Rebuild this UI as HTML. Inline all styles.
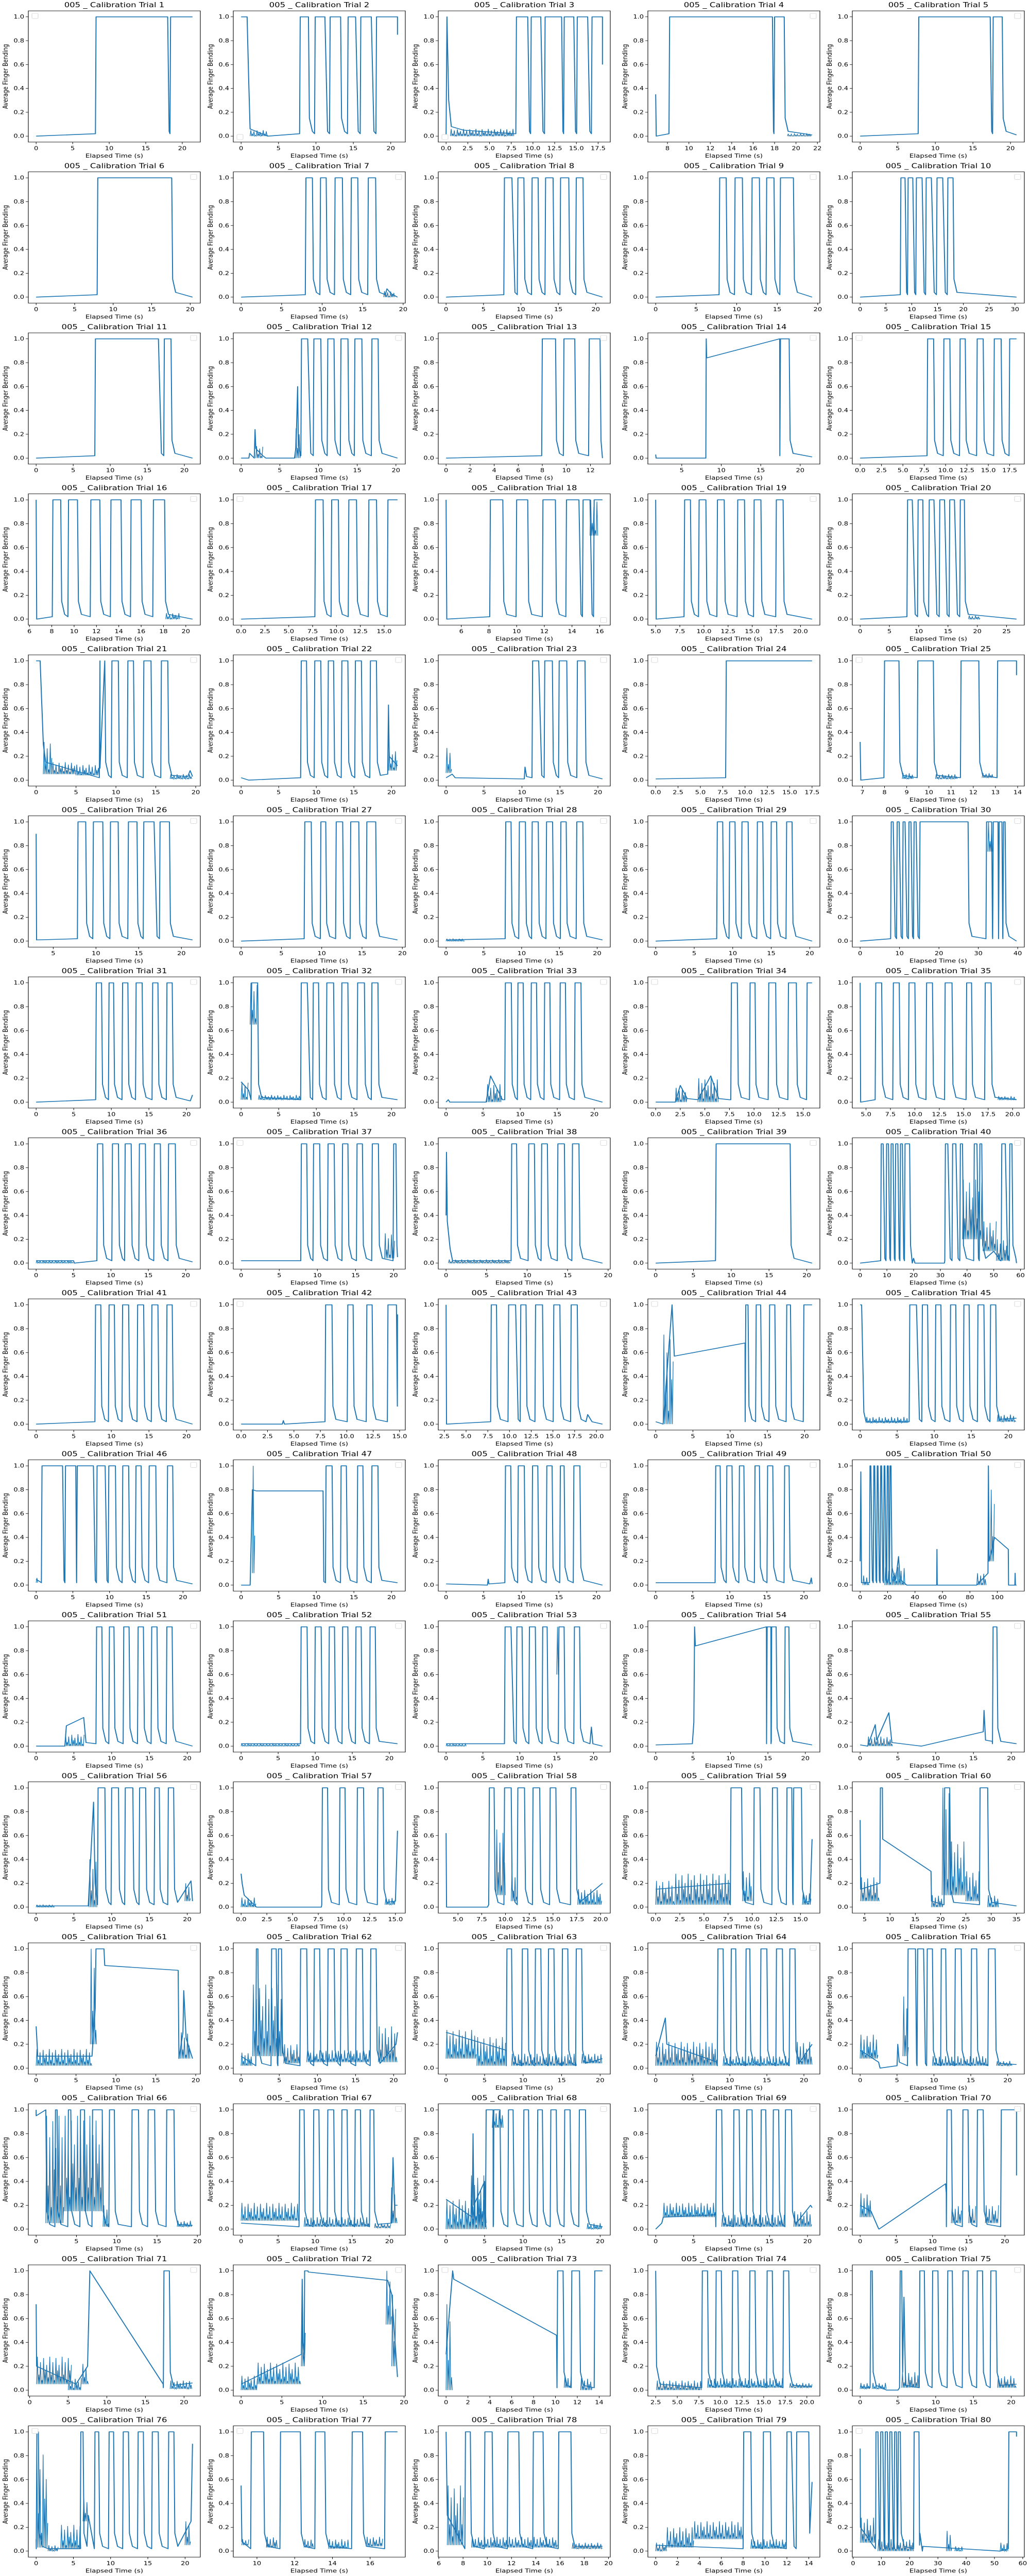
<!DOCTYPE html>
<html><head><meta charset="utf-8"><title>005 Calibration Trials</title>
<style>
html,body{margin:0;padding:0;background:#fff;width:100vw;height:100vh;overflow:hidden;}
#chart{display:block;position:absolute;left:0;top:0;width:100vw;height:100vh;}
svg text{font-family:"DejaVu Sans","Liberation Sans",sans-serif;fill:#000;}
</style></head>
<body>
<svg id="chart" xmlns="http://www.w3.org/2000/svg" viewBox="0 0 2000 6400" preserveAspectRatio="none"></svg>
<script>
// ---- data ----
const spans = [
[0,21.4],[0,20.9],[0,18.0],[6.9,21.5],[0,20.8],
[0,20.3],[0,19.3],[0,20.9],[0,19.3],[0,30.3],
[0,21.1],[0,20.2],[0,13.0],[1.7,21.5],[0,18.3],
[6.6,20.6],[0,16.4],[4.9,16.2],[5.0,21.2],[0,26.7],
[0,19.6],[0,20.8],[0,20.6],[0,17.5],[6.9,13.95],
[3.0,21.3],[0,19.4],[0,20.7],[0,20.3],[0,39.7],
[0,20.8],[0,20.8],[0,21.1],[0,15.9],[4.4,20.4],
[0,20.9],[0,20.5],[0,19.3],[0,20.7],[0,58.5],
[0,20.8],[0,14.8],[2.7,20.7],[0,21.0],[0,21.1],
[0,21.3],[0,20.8],[0,20.8],[0,21.1],[0,114],
[0,20.7],[0,21.1],[0,21.2],[0,20.9],[0,20.7],
[0,20.7],[0,15.2],[3.75,20.2],[0,16.2],[4.1,35.0],
[0,19.6],[0,20.5],[0,20.3],[0,21.1],[0,21.2],
[0,19.4],[0,21.1],[0,20.3],[0,20.6],[0,21.6],
[0.84,21.1],[0,19.2],[0,14.3],[2.5,20.6],[0,20.7],
[0,21.0],[9.16,17.45],[6.6,19.5],[0,14.3],[2.5,57.8]
];
const tk20 = ["0","5","10","15","20"];
const tk175 = ["0.0","2.5","5.0","7.5","10.0","12.5","15.0","17.5"];
const tk150 = ["0.0","2.5","5.0","7.5","10.0","12.5","15.0"];
const tk5to20 = ["5.0","7.5","10.0","12.5","15.0","17.5","20.0"];
const xtickLabels = [
tk20,tk20,tk175,["8","10","12","14","16","18","20","22"],tk20,
tk20,tk20,tk20,tk20,["0","5","10","15","20","25","30"],
tk20,tk20,["0","2","4","6","8","10","12"],["5","10","15","20"],tk175,
["6","8","10","12","14","16","18","20"],tk150,["6","8","10","12","14","16"],tk5to20,["0","5","10","15","20","25"],
tk20,tk20,tk20,tk175,["7","8","9","10","11","12","13","14"],
["5","10","15","20"],tk20,tk20,tk20,["0","10","20","30","40"],
tk20,tk20,tk20,tk150,tk5to20,
tk20,tk20,tk20,tk20,["0","10","20","30","40","50","60"],
tk20,tk150,["2.5","5.0","7.5","10.0","12.5","15.0","17.5","20.0"],tk20,tk20,
tk20,tk20,tk20,tk20,["0","20","40","60","80","100"],
tk20,tk20,tk20,tk20,tk20,
tk20,tk150,["5.0","7.5","10.0","12.5","15.0","17.5","20.0"],tk150,["5","10","15","20","25","30","35"],
tk20,tk20,tk20,tk20,tk20,
tk20,tk20,tk20,tk20,tk20,
tk20,tk20,["0","2","4","6","8","10","12","14"],["2.5","5.0","7.5","10.0","12.5","15.0","17.5","20.0"],tk20,
tk20,["10","12","14","16"],["6","8","10","12","14","16","18","20"],["0","2","4","6","8","10","12","14"],["0","10","20","30","40","50","60"]
];
const pulses = [
[8.2,18.0,18.4,21.4],
[7.9,9.0,9.9,11.2,11.9,13.3,14.3,15.3,16.0,17.4,18.1,20.9],
[8.1,9.4,9.8,10.9,11.4,13.3,13.6,14.7,15.1,16.3,16.8,18.0],
[8.2,17.8,18.0,18.9],
[7.8,17.3,17.7,18.9],
[8.0,17.6],
[8.0,8.8,9.8,10.5,11.6,12.5,13.6,14.4,15.7,16.6],
[7.8,8.8,9.6,10.4,11.5,12.3,13.3,14.3,15.3,16.4,17.4,18.3],
[7.9,8.7,9.8,10.7,11.9,12.8,13.7,14.6,15.4,17.0],
[7.9,8.7,9.3,10.2,10.9,12.0,12.8,13.8,14.9,16.0,17.0,18.0],
[8.0,16.5,17.3,18.2],
[7.8,8.6,9.4,10.3,11.2,12.0,12.9,13.8,14.7,15.6,16.9,17.7],
[8.0,9.1,9.8,10.7,11.9,12.8],
[17.5,18.6],
[7.9,8.6,9.8,10.5,11.7,12.3,13.7,14.4,15.7,16.5,17.5,18.3],
[8.1,8.8,9.5,10.3,11.5,12.3,13.3,14.2,15.1,16.0,17.1,18.1],
[7.8,8.6,9.5,10.2,11.3,12.1,13.4,14.2,15.4,16.4],
[8.1,9.0,10.0,10.8,11.9,12.8,13.6,14.5,14.8,15.3,15.6,16.2],
[8.0,8.6,9.5,10.2,11.4,12.1,13.5,14.2,15.2,15.9,17.5,18.2],
[8.1,8.9,9.9,10.7,11.8,12.6,13.6,14.4,15.3,16.1,17.1,17.8],
[8.0,8.6,9.5,10.3,11.5,12.2,13.5,14.4,15.7,16.5],
[8.0,8.7,9.8,10.6,11.6,12.3,13.4,14.2,15.2,16.0,17.2,18.0],
[11.4,12.2,13.0,14.0,14.9,15.9,17.3,18.3],
[7.9,17.5],
[8.0,8.65,9.5,10.2,11.45,12.25,13.1,13.95],
[7.9,8.8,9.7,10.8,11.7,12.6,13.8,14.8,15.6,16.8,17.5,18.6],
[7.9,8.7,9.9,10.5,11.8,12.6,13.6,14.6,15.6,16.7],
[7.9,8.6,9.7,10.5,11.4,12.2,13.3,14.1,15.2,15.9,17.3,18.1],
[8.0,8.7,9.6,10.3,11.2,12.0,13.2,13.9,15.0,15.7,17.0,17.7],
[7.9,8.4,9.4,9.9,10.9,11.4,12.4,12.9,13.7,14.2,15.2,27.4,32.1,33.4,33.8,35.0,35.3,36.0,36.4,36.8],
[8.0,8.7,9.7,10.3,11.5,12.2,13.3,14.1,15.5,16.2,17.4,18.1],
[1.4,2.2,8.0,8.8,9.6,10.3,11.4,12.3,13.4,14.2,15.5,16.4,17.4,18.2],
[8.0,8.8,9.7,10.4,11.5,12.2,13.3,14.0,15.4,16.1,17.4,18.2],
[7.7,8.3,9.6,10.1,11.5,12.2,13.5,14.3,15.4,15.9],
[6.0,6.6,7.8,8.4,9.4,10.0,11.2,11.8,13.1,13.8,15.3,15.8,17.2,17.8],
[8.2,8.9,10.2,11.0,11.9,12.7,13.8,14.6,15.8,16.6,17.7,18.6],
[7.9,8.6,9.5,10.3,11.4,12.2,13.3,14.0,15.2,15.9,17.2,18.0,20.0,20.3],
[8.1,8.7,10.2,10.9,11.8,12.5,13.8,14.6,15.6,16.4],
[8.0,17.8],
[7.9,8.6,9.9,10.6,11.6,12.3,13.3,14.1,15.1,15.8,16.8,18.5,31.9,32.8,34.6,35.8,37.5,38.3,42.7,43.7,44.8,45.5,53.0,54.3,56.0,56.8],
[7.9,8.6,9.7,10.4,11.5,12.3,13.5,14.3,15.4,16.2,17.4,18.1],
[8.0,8.6,10.1,10.6,11.9,12.4,13.9,14.7],
[7.9,8.5,9.9,10.7,11.3,11.9,13.0,13.8,15.1,15.8,17.1,17.8],
[12.1,12.4,13.5,14.1,15.3,16.0,17.6,18.1,19.9,21.0],
[6.7,7.6,8.4,9.1,10.2,10.9,12.2,12.9,14.0,14.7,15.9,16.7,17.6,18.3],
[0.8,3.6,4.0,5.4,5.6,7.8,8.3,9.4,9.9,10.8,11.8,12.6,13.6,14.3,15.4,16.3,17.9,18.6],
[11.3,12.1,13.3,14.0,15.5,16.2,17.4,18.2],
[7.9,8.6,9.6,10.4,11.5,12.2,13.4,14.1,15.2,15.7,17.0,17.8],
[8.1,8.7,9.6,10.3,11.3,11.9,13.4,14.0,15.1,15.8,17.4,18.0],
[7.2,7.8,10,10.6,12.5,13,15,15.6,17.5,18,19.8,20.5,21.8,22.5],
[8.0,8.7,9.7,10.3,11.6,12.3,13.5,14.2,15.3,16.0,17.3,18.0],
[8.1,8.9,10.0,10.8,11.9,12.6,13.7,14.4,15.5,16.2,17.4,18.1],
[8.0,8.8,9.6,10.3,11.3,12.1,13.1,13.7,15.3,16.0,17.4,18.1],
[14.9,15.4,15.5,16.1,17.3,17.8],
[17.6,18.1],
[8.2,9.1,10.0,10.9,11.8,12.8,13.7,14.5,15.7,16.3,17.5,18.2],
[7.9,8.4,9.6,10.1,11.3,11.9,13.3,13.8],
[8.3,8.8,9.9,10.6,11.3,12.0,12.9,13.6,14.7,15.3,16.9,17.4],
[7.8,8.9,10.2,10.8,12.1,12.6,13.6,14.1,14.3,15.1],
[20.8,21.8,27.8,29.3],
[],
[2.0,2.2,4.0,4.6,4.9,5.3,7.8,8.6,9.6,10.3,11.4,12.2,13.1,13.9,15.1,15.9,17.0,17.7],
[7.9,8.5,9.9,10.6,11.6,12.3,13.3,14.0,15.1,15.8,16.9,17.6],
[8.4,9.1,10.2,10.8,12.2,12.7,14.2,15.0,16.3,17.1,18.1,18.8],
[6.5,7.5,7.8,8.6,9.1,9.8,11.0,11.6,12.9,13.7,15.1,15.8,17.4,18.3],
[0,1.2,2.4,2.6,4.0,4.3,5.5,6.0,7.0,8.2,9.1,9.7,11.9,12.7,13.9,14.7,16.2,17.1],
[7.9,8.5,9.8,10.5,11.7,12.5,13.6,14.3,15.4,16.1,17.4,17.9],
[5.2,6.1,6.2,7.0,8.1,8.7,10.1,10.7,11.9,12.5,13.6,14.3,15.4,16.1,17.3,18.1],
[8.0,8.7,10.3,11.0,12.0,12.7,13.9,14.5,15.5,16.2,17.1,17.9],
[12.0,12.6,14.2,14.9,16.2,17.0,19.5,21.6],
[17.4,18.1],
[],
[10.2,10.7,11.5,12.2,13.6,14.3],
[7.9,8.5,9.5,10.1,11.4,12.0,13.4,14.0,15.4,16.0,17.3,17.9],
[1.4,1.6,5.3,5.5,7.9,8.5,9.6,10.3,11.6,12.2,13.6,14.3,15.5,16.2,17.3,18.0],
[0.1,0.3,6.0,6.3,7.9,8.4,9.8,10.4,11.7,12.4,13.7,14.4,15.6,16.4,17.8,18.5],
[9.7,10.35,11.25,12.3,13.1,13.6,15.05,15.6,16.8,17.45],
[8.2,8.6,9.8,10.4,11.7,12.6,13.8,14.6,15.9,16.9],
[8.05,8.7,9.85,10.5,12.0,12.4,12.9,14.0],
[8.1,8.8,9.8,10.5,11.4,12.1,13.0,13.7,14.7,15.3,16.0,16.7,21.6,23.3,55.1,57.8]
];
const keyPts = [
[0,0,21.4,1],
[0,1,0.8,1,1.0,0.5,1.2,0.06,3.6,0.0,20.9,0.85],
[0,0,0.1,1.0,0.3,0.3,0.6,0.08,2,0.05,7.8,0.02,18.0,0.6],
[6.9,0.35,6.95,0.0,21.5,0.01],
[0,0,20.8,0.01],
[0,0,20.3,0],
[0,0,17.8,0.02,18.0,0.07,18.5,0.03,19.3,0.0],
[0,0,20.9,0],
[0,0,19.3,0],
[0,0,30.3,0],
[0,0,21.1,0],
[0,0,1.0,0.0,1.1,0.04,1.7,0.0,1.8,0.24,1.9,0.08,2.8,0.02,3.2,0.0,6.9,0.0,7.1,0.1,7.3,0.6,7.4,0.1,20.2,0.0],
[0,0,13.0,0.0],
[1.7,0.03,1.75,0,8.05,0,8.1,1.0,8.15,0.84,17.4,1.0,17.42,0.02,21.5,0.01],
[0,0,18.3,1],
[6.6,1.0,6.65,0.0,20.6,0.0],
[0,0,16.4,1],
[4.9,1.0,4.95,0.0,16.2,1],
[5.0,1.0,5.05,0.0,21.2,0.0],
[0,0,26.7,0],
[0,1.0,0.5,1.0,0.7,0.65,0.9,0.3,1.2,0.15,8.0,0.1,19.0,0.03,19.3,0.08,19.6,0.03],
[0,0.02,1.0,0.0,19.5,0.05,19.6,0.63,19.7,0.2,20.8,0.12],
[0,0.02,0.8,0.05,1.2,0.02,10.3,0.01,10.4,0.11,10.6,0.03,20.6,0.01],
[0,0.01,17.5,1],
[6.9,0.32,6.93,0.0,13.95,0.88],
[3.0,0.9,3.05,0.01,21.3,0.01],
[0,0,19.4,0.01],
[0,0.01,20.7,0.01],
[0,0,20.3,0],
[0,0,39.7,0],
[0,0,20.5,0.01,20.8,0.06],
[0,0.17,1.0,0.1,20.8,0.02],
[0,0,0.3,0.02,0.5,0,5.4,0,6.0,0.22,7.6,0.02,21.1,0],
[0,0,2.0,0,2.5,0.14,3.2,0.03,4.3,0.02,5.6,0.22,6.4,0.03,7.5,0.02,15.9,1],
[4.4,1.0,4.45,0.0,20.4,0.02],
[0,0.02,5.0,0.02,5.1,0,20.9,0.01],
[0,0.02,20.5,0.05],
[0,0.4,0.05,0.93,0.15,0.35,0.5,0.12,0.8,0.02,19.3,0.0],
[0,0,20.7,0],
[0,0,19.5,0.0,20.0,0.04,20.5,0,31.5,0,50,0.1,52.5,0.02,58.5,0.0],
[0,0,20.8,0],
[0,0,3.9,0,4.0,0.03,4.1,0,14.8,0.92],
[2.7,1.0,2.75,0,18.8,0.02,19.0,0.08,19.5,0.02,20.7,0],
[0,0.02,1.0,0,2.2,1.0,2.5,0.57,12.0,0.68,21.0,1],
[0,1.0,0.2,1.0,0.5,0.1,0.8,0.02,21.1,0.05],
[0,0.05,21.3,0.01],
[0,0,1.2,0,1.5,0.8,2.0,0.79,10.9,0.79,11.0,0.03,20.8,0.02],
[0,0.01,5.5,0.0,5.6,0.05,5.7,0.01,20.8,0.0],
[0,0.02,20.8,0.01,21.0,0.06,21.1,0.01],
[0,0.2,0.5,0.95,1.0,0.02,6.8,0.02,26,0.05,28,0.24,29,0.05,34,0.0,55.8,0,56,0.3,56.2,0,85,0,93.2,0.1,93.5,1.0,94,0.2,98,0.4,108,0.3,108.2,0,112.8,0.0,113,0.1,113.2,0.0,114,0],
[0,0,3.8,0,4.0,0.17,6.3,0.24,6.6,0.03,20.7,0],
[0,0.02,21.1,0.02],
[0,0.02,19.5,0.02,19.7,0.16,19.9,0.02,21.2,0],
[0,0.01,4.9,0.02,5.1,0.2,5.2,1.0,5.3,0.84,14.8,1.0,20.9,0.01],
[0,0.01,1,0,2,0.18,2.2,0.05,3.8,0.28,4.2,0.03,8.1,0.0,16.3,0.12,16.4,0.3,16.6,0.05,17.5,0.04,20.7,0.02],
[0,0.01,6.9,0.01,7.6,0.88,7.8,0.2,20.5,0.22,20.7,0.05],
[0,0.28,0.1,0.2,0.3,0.1,1.5,0.0,7.8,0,15.0,0.05,15.2,0.64],
[3.75,0.62,3.8,0.0,8.1,0.0,20.2,0.2],
[0,0.15,7.7,0.2,16.0,0.05,16.2,0.57],
[4.1,0.73,4.2,0.15,8.0,0.2,8.1,1.0,8.5,1.0,8.55,0.57,18.1,0.3,18.2,0.05,35.0,0.01],
[0,0.35,0.2,0.1,7.0,0.1,7.4,0.5,7.5,1.0,8.5,1.0,8.6,0.86,17.8,0.82,17.9,0.08,18.4,0.3,18.5,0.65,18.8,0.25,19.6,0.08],
[0,0.1,20.3,0.2,20.5,0.3],
[0,0.3,7.8,0.15,20.3,0.08],
[0,0.1,1.3,0.42,1.5,0.2,8.3,0.05,21.1,0.2],
[0,0.15,2.5,0.05,2.7,0.0,5.0,0.02,5.1,0.2,5.3,0.05,21.2,0.03],
[0,0.95,19.4,0.03],
[0,0.05,20.3,0.05,20.5,0.6,20.7,0.2,21.1,0.2],
[0,0.25,3.4,0.1,3.5,0.8,3.6,0.2,5.0,0.4,20.3,0.02],
[0,0.0,0.8,0.05,1.0,0.1,7.9,0.12,20.4,0.2,20.6,0.18],
[0,0.2,1.5,0.15,2.5,0.01,2.6,0.0,11.8,0.38,11.9,0.3,21.6,0.45],
[0.84,0.72,0.9,0.2,6.0,0.05,7.5,0.2,7.8,1.0,17.3,0.05,21.1,0.06],
[0,0.05,7.4,0.3,7.5,0.93,7.6,0.4,7.75,0.3,7.8,1.0,8.2,1.0,8.25,0.99,18.0,0.92,18.5,0.8,19.2,0.11],
[0,0.3,0.6,1.0,0.7,0.93,10.1,0.46,14.3,1],
[2.5,1.0,2.6,0.2,3.0,0.05,20.6,0.03],
[0,0.03,3.5,0.0,5.0,0,5.8,0.78,6.0,0.1,20.7,0.05],
[0,0.1,1.6,0.02,3.0,0.02,7.0,0.3,20.8,0.25,21.0,0.9],
[9.16,0.55,9.2,0.08,17.45,1],
[6.6,1.0,6.7,0.3,19.5,0.04],
[0,0.05,14.3,0.58],
[2.5,0.86,2.6,0.2,8.0,0.15,23.5,0.05,24.5,0.0,52,0,57.8,0.96]
];
const bands = [
[],
[1.2,3.6,0,0.05],
[0.5,7.8,0.0,0.06],
[19.2,21.5,0,0.02],
[],
[],
[17.6,19.0,0,0.05],
[],[],[],[],
[1.9,2.8,0,0.1,7.0,7.7,0,0.25],
[],[],[],
[18.2,19.5,0,0.05],
[],
[15.3,15.9,0.7,1.0],
[],
[18.5,20.5,0,0.03],
[0.9,2.0,0.05,0.32,2.0,5.0,0.05,0.15,5.0,8.0,0.04,0.13,16.8,19.6,0.01,0.05],
[19.6,20.8,0.08,0.25],
[0,0.8,0.06,0.27],
[],
[8.8,9.3,0.01,0.06,10.3,11.3,0.01,0.05,12.4,12.9,0.02,0.06],
[],[],
[0,2.5,0,0.02],
[],
[32.4,33.6,0.75,1.0],
[],
[0,1.0,0.02,0.17,1.2,2.2,0.65,1.0,2.3,8.0,0.02,0.06],
[5.5,7.5,0,0.15],
[2.0,3.2,0,0.12,4.3,6.4,0,0.2],
[18.5,20.4,0.02,0.05],
[0,5.0,0,0.025],
[18.8,20.2,0.04,0.25],
[0.3,8.0,0,0.03],
[],
[38.3,46,0.2,0.7,46,51,0.1,0.35,51,56,0.02,0.2],
[],[],[],
[1.0,2.4,0,0.75],
[0.8,6.5,0.01,0.06,18.5,21.1,0.02,0.08],
[0,0.3,0.02,0.06],
[1.5,1.9,0.1,1.0],
[],[],
[2,7,0,0.08,18,33,0,0.15,85,92,0,0.1,95,98,0.2,0.8],
[3.8,6.4,0,0.1],
[0,8,0,0.02],
[0,2.8,0,0.02,15.0,15.4,0.6,1.0],
[],
[1.0,4.3,0,0.08],
[0,2.5,0,0.02,7.0,8.1,0,0.4,19.7,20.5,0.05,0.2],
[0,1.5,0,0.08,14.0,15.0,0.02,0.08],
[9.0,10.0,0.1,0.65,10.6,11.3,0.05,0.3,17.6,20.2,0.02,0.15],
[0,2.0,0.02,0.22,2.0,7.7,0.02,0.28,9.0,10.0,0.05,0.3,15.2,16.1,0.02,0.12],
[4.2,8.0,0.05,0.25,18.2,20.5,0,0.1,20.3,22,0.1,1.0,22,25,0.1,0.55,25,27.6,0.05,0.3,29.3,31.5,0,0.1],
[0,7.0,0.02,0.16,6.8,7.6,0.2,1.0,18.1,19.3,0.08,0.3],
[0,1.5,0.02,0.13,1.5,5.6,0.1,0.7,5.6,7.8,0.04,0.2,8.6,17.0,0.05,0.15,18,20.5,0.05,0.35],
[0,4.0,0.08,0.32,4.0,7.8,0.02,0.26,8.5,17,0.02,0.12,17.6,20.3,0.04,0.12],
[0,8.3,0.02,0.22,9.1,18,0.02,0.1,19,21.1,0.03,0.22],
[0,2.5,0.08,0.28,5.8,6.6,0.1,0.6,9.8,17.4,0.02,0.1,18.5,20.6,0.02,0.06],
[1.2,3.5,0.05,0.95,3.5,8.3,0.15,0.95,8.3,9.0,0.02,0.2,17.5,19.4,0.02,0.07],
[0,7.8,0.07,0.22,8.5,17.4,0.02,0.1,18,20.2,0.01,0.05,20.2,21.1,0.05,0.35],
[0,5.3,0.0,0.25,3.2,5.3,0.05,0.45,6.0,7.5,0.85,1.0,18.3,20.3,0,0.05],
[1.0,8.0,0.1,0.22,8.7,17.0,0.02,0.12,18.2,20.6,0.02,0.15],
[0,1.5,0.1,0.3,12.6,14.0,0.05,0.2,15,16,0.05,0.2,17.3,19.2,0.05,0.2],
[0.9,5.5,0.05,0.28,5.0,6.8,0.0,0.1,6.8,7.7,0.05,0.22,18.2,21.1,0.01,0.08],
[0,2,0,0.12,2,7.4,0.05,0.23,7.4,7.9,0.2,0.55,17.8,18.5,0.55,1.0,18.5,19.0,0.2,0.8],
[0,0.6,0,0.72,10.8,11.5,0.02,0.12,12.3,13.4,0,0.1],
[2.6,7.8,0.0,0.08,8.5,17.3,0.02,0.1,18,20.6,0.02,0.06],
[0,1.4,0.01,0.06,1.6,3.5,0.01,0.06,5.5,7.8,0.02,0.15,18.2,20.7,0.02,0.12],
[0,1.6,0.03,0.85,1.6,3.0,0,0.05,3.3,6.0,0.02,0.22,6.3,7.0,0.25,0.45,20,20.8,0.05,0.25],
[9.2,9.6,0.05,0.1,10.5,11.1,0.03,0.12,12.5,13.0,0.03,0.1,13.8,14.9,0.02,0.1,15.8,16.7,0.04,0.12],
[6.7,8.1,0.05,0.55,8.7,15.8,0.03,0.12,17,19.5,0.02,0.07],
[0,1.0,0,0.07,1.0,3.5,0.03,0.2,3.5,8.0,0.1,0.25,8.7,12,0.02,0.1],
[2.6,8.0,0.07,0.28,8.8,21.5,0,0.1,33,35,0,0.17,36,39,0,0.04,52,55,0,0.07]
];
const legendPos = [
"tl","bl","bl","tr","tr",
"tr","tr","tr","tr","tr",
"tr","tr","tr","tr","tl",
"tr","tl","br","tr","tr",
"tr","tr","tr","tl","tl",
"tr","tr","tr","tr","tr",
"tr","tr","tr","tl","tr",
"tr","tl","tr","tr","tr",
"tr","tl","tr","tl","tr",
"tr","tr","tr","tr","tr",
"tr","tr","tr","tr","tr",
"tr","tr","tr","tr","tr",
"tr","tr","tr","tr","tr",
"tr","tr","tr","tr","tr",
"tr","tr","tl","tr","tr",
"tl","tl","tr","tl","tl"
];
const yTickVals = [0,0.2,0.4,0.6,0.8,1.0];

// ---- layout / style ----
const colLeft = [55,453,851,1258,1655];
const W = 334, H = 326;
const Y_LO = -0.05, Y_HI = 1.05;
const BLUE = "#1f77b4";
const JITTER_STYLE = [1, 0.35, 0.8, 0.15, 0.95, 0.5, 0.7, 0.25]; // visual zigzag texture for noise bands
const NS = "http://www.w3.org/2000/svg";
const svg = document.getElementById("chart");

function mk(tag, attrs, parent){
  const el = document.createElementNS(NS, tag);
  for (const k in attrs) el.setAttribute(k, attrs[k]);
  parent.appendChild(el);
  return el;
}

for (let i = 0; i < 80; i++) {
  const r = Math.floor(i/5), c = i%5;
  const L = colLeft[c], T = 27 + 400*r, B = T + H, Rr = L + W;
  const s0 = spans[i][0], s1 = spans[i][1], R = s1 - s0;
  const xlo = s0 - 0.05*R, xhi = s1 + 0.05*R;
  const xs = t => L + (t - xlo)/(xhi - xlo)*W;
  const ys = v => T + (Y_HI - v)/(Y_HI - Y_LO)*H;

  const g = mk("g", {}, svg);
  
  

  const bg = mk("rect", {x:L, y:T, width:W, height:H, fill:"#fff"}, g);
  
  

  // noise bands drawn as dense zigzag between lo and hi
  const bd = bands[i];
  for (let k = 0; k + 3 < bd.length; k += 4) {
    const x0 = xs(Math.max(bd[k], s0)), x1 = xs(Math.min(bd[k+1], s1));
    const yLo = ys(bd[k+2]), yHi = ys(bd[k+3]);
    let dd = "M" + x0.toFixed(1) + " " + yLo.toFixed(1);
    let n = 0;
    for (let x = x0; x <= x1; x += 1.5, n++) {
      const y = (n % 2 === 0) ? yLo : yLo + (yHi - yLo) * JITTER_STYLE[(n >> 1) % JITTER_STYLE.length];
      dd += " L" + x.toFixed(1) + " " + y.toFixed(1);
    }
    const zz = mk("path", {d:dd, fill:"none", stroke:BLUE, "stroke-width":"1.3"}, g);
    
    
  }

  const pts = [];
  const p = pulses[i];
  for (let k = 0; k + 1 < p.length; k += 2) {
    const s = p[k], e = p[k+1];
    const next = (k + 2 < p.length) ? p[k+2] : null;
    pts.push([s - 0.004*R, 0.02], [s, 1], [e, 1]);
    if (next !== null && next - e < 0.04*R) {
      pts.push([(e + next)/2, 0.04]);
    } else {
      pts.push([e + 0.006*R, 0.15], [e + 0.025*R, 0.04]);
    }
  }
  const kp = keyPts[i];
  for (let k = 0; k + 1 < kp.length; k += 2) pts.push([kp[k], kp[k+1]]);
  const sorted = pts.map((q, idx) => [q[0], q[1], idx])
    .filter(q => q[0] >= s0 - 1e-9 && q[0] <= s1 + 1e-9)
    .sort((a, b) => (a[0] - b[0]) || (a[2] - b[2]));
  const d = sorted.map((q, idx) => (idx ? "L" : "M") + xs(q[0]).toFixed(2) + " " + ys(q[1]).toFixed(2)).join(" ");
  const line = mk("path", {d:d, fill:"none", stroke:BLUE, "stroke-width":"2", "stroke-linejoin":"round"}, g);
  
  

  const fr = mk("rect", {x:L, y:T, width:W, height:H, fill:"none", stroke:"#000", "stroke-width":"1.1"}, g);
  
  

  for (const v of yTickVals) {
    const y = ys(v);
    const tm = mk("line", {x1:L-5, x2:L, y1:y, y2:y, stroke:"#000", "stroke-width":"1"}, g);
    
    
    const tl = mk("text", {x:L-8, y:y+4.5, "text-anchor":"end", "font-size":"13"}, g);
    tl.textContent = v.toFixed(1);
    
    
  }
  for (const lab of xtickLabels[i]) {
    const t = parseFloat(lab);
    const x = xs(t);
    if (x < L - 1 || x > Rr + 1) continue;
    const tm = mk("line", {x1:x, x2:x, y1:B, y2:B+5, stroke:"#000", "stroke-width":"1"}, g);
    
    
    const tl = mk("text", {x:x, y:B+20, "text-anchor":"middle", "font-size":"13"}, g);
    tl.textContent = lab;
    
    
  }
  const xl = mk("text", {x:L+W/2, y:B+39, "text-anchor":"middle", "font-size":"13.5"}, g);
  xl.textContent = "Elapsed Time (s)";
  
  
  const yl = mk("text", {x:0, y:0, "text-anchor":"middle", "font-size":"13.5", transform:"translate(" + (L-40) + "," + (T+H/2) + ") rotate(-90)"}, g);
  yl.textContent = "Average Finger Bending";
  
  
  const tt = mk("text", {x:L+W/2, y:T-9, "text-anchor":"middle", "font-size":"16.5"}, g);
  tt.textContent = "005 _ Calibration Trial " + (i+1);
  
  
  const lp = legendPos[i];
  const lx = lp[1] === "l" ? L+7 : Rr-19;
  const ly = lp[0] === "t" ? T+6 : B-19;
  const lg = mk("rect", {x:lx, y:ly, width:12, height:13, rx:2, fill:"#fff", stroke:"#d6d6d6", "stroke-width":"1"}, g);
  
  
}
</script>
</body></html>
